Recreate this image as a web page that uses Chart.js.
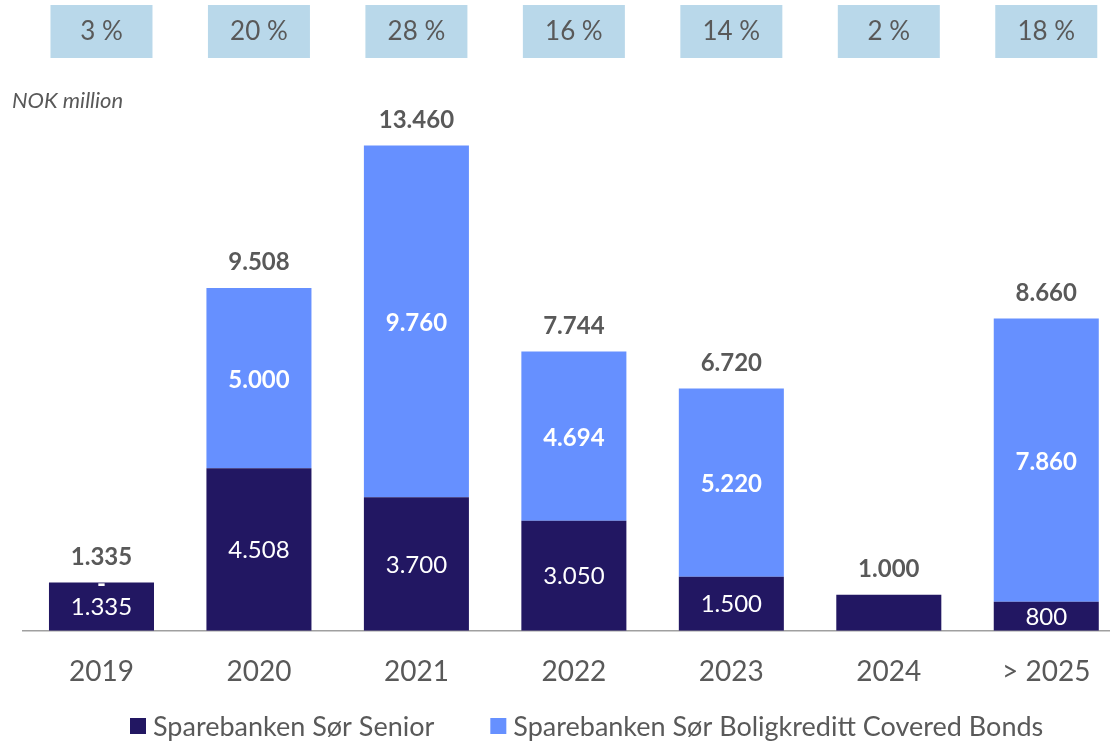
<!DOCTYPE html>
<html>
<head>
<meta charset="utf-8">
<script src="https://cdn.jsdelivr.net/npm/chart.js@4/dist/chart.umd.min.js"></script>
<style>
  html, body { margin: 0; padding: 0; background: #fff; overflow: hidden; }
  #wrap { width: 1110px; height: 741px; overflow: hidden; position: relative; }
  #note { position: absolute; left: 12px; top: 86px; font: italic 22px Lato, sans-serif; color: #595959; }
</style>
</head>
<body>
<div id="wrap">
  <canvas id="maturityChart" width="1130" height="741"></canvas>
  <div id="note">NOK million</div>
</div>
<script>
// Data
const years = ['2019', '2020', '2021', '2022', '2023', '2024', '> 2025'];
const seniorValues = [1335, 4508, 3700, 3050, 1500, 1000, 800];
const coveredValues = [0, 5000, 9760, 4694, 5220, null, 7860];
const sharePercent = [3, 20, 28, 16, 14, 2, 18];
const seniorLabelShown = [true, true, true, true, true, false, true];

const grey = '#595959';
const fontName = 'Lato, "Open Sans", sans-serif';

function fmt(v) {
    return String(v).replace(/\B(?=(\d{3})+(?!\d))/g, '.');
}

// labels inside bars, totals on top, percent boxes at the top
const labelPlugin = {
    id: 'labelPlugin',
    afterDatasetsDraw(chart) {
        const ctx = chart.ctx;
        const seniorMeta = chart.getDatasetMeta(0);
        const coveredMeta = chart.getDatasetMeta(1);
        const xScale = chart.scales.x;
        const yScale = chart.scales.y;
        ctx.save();
        ctx.textAlign = 'center';

        years.forEach(function(year, i) {
            // senior label
            const sBar = seniorMeta.data[i];
            if (seniorLabelShown[i]) {
                ctx.font = '24px ' + fontName;
                ctx.fillStyle = '#ffffff';
                ctx.textBaseline = 'middle';
                ctx.fillText(fmt(seniorValues[i]), sBar.x, (sBar.y + sBar.base) / 2 + 1);
            }
            // covered label
            if (coveredValues[i] !== null) {
                const cBar = coveredMeta.data[i];
                ctx.font = 'bold 24px ' + fontName;
                ctx.fillStyle = '#ffffff';
                ctx.textBaseline = 'middle';
                const txt = coveredValues[i] === 0 ? '-' : fmt(coveredValues[i]);
                ctx.fillText(txt, cBar.x, (cBar.y + cBar.base) / 2 + 2);
            }
            // total on top
            const total = seniorValues[i] + (coveredValues[i] || 0);
            ctx.font = 'bold 24px ' + fontName;
            ctx.fillStyle = grey;
            ctx.textBaseline = 'alphabetic';
            ctx.fillText(fmt(total), sBar.x, yScale.getPixelForValue(total) - 18);

            // percent box
            const cx = xScale.getPixelForValue(i);
            ctx.fillStyle = '#b9d8ea';
            ctx.fillRect(cx - 51, 5, 102, 53);
            ctx.font = '26px ' + fontName;
            ctx.fillStyle = grey;
            ctx.textBaseline = 'middle';
            ctx.fillText(sharePercent[i] + ' %', cx, 32);
        });
        ctx.restore();
    },
    // legend drawn by hand so spacing matches
    afterDraw(chart) {
        const ctx = chart.ctx;
        ctx.save();
        ctx.font = '27px ' + fontName;
        ctx.textBaseline = 'middle';
        ctx.textAlign = 'left';
        let x = 130;
        const y = 726;
        chart.data.datasets.forEach(function(ds) {
            ctx.fillStyle = ds.backgroundColor;
            ctx.fillRect(x, y - 8, 16, 16);
            ctx.fillStyle = grey;
            ctx.fillText(ds.label, x + 23, y + 1);
            x += 23 + ctx.measureText(ds.label).width + 56;
        });
        ctx.restore();
    }
};

const ctxMaturity = document.getElementById('maturityChart').getContext('2d');
new Chart(ctxMaturity, {
    type: 'bar',
    data: {
        labels: years,
        datasets: [{
            label: 'Sparebanken Sør Senior',
            data: seniorValues,
            backgroundColor: '#221762',
            borderWidth: 0
        }, {
            label: 'Sparebanken Sør Boligkreditt Covered Bonds',
            data: coveredValues,
            backgroundColor: '#6690ff',
            borderWidth: 0
        }]
    },
    options: {
        responsive: false,
        animation: false,
        layout: { padding: { left: 22.75, right: 5, top: 0, bottom: 28.7 } },
        datasets: { bar: { categoryPercentage: 1, barPercentage: 0.667 } },
        scales: {
            x: {
                stacked: true,
                grid: { display: false, drawTicks: false },
                border: { color: '#a0a0a0', width: 1.5 },
                ticks: { color: grey, font: { family: fontName, size: 28 }, padding: 24 }
            },
            y: {
                stacked: true,
                display: false,
                min: 0,
                max: 17500
            }
        },
        plugins: {
            tooltip: { enabled: false },
            legend: { display: false }
        }
    },
    plugins: [labelPlugin]
});
</script>
</body>
</html>
